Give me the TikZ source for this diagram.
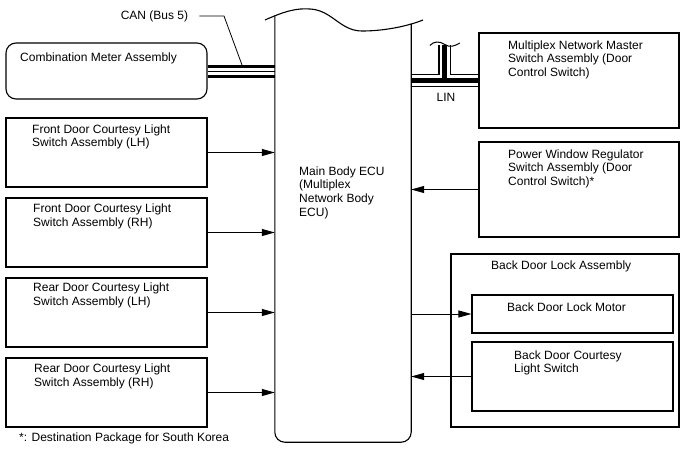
\documentclass[tikz,border=0pt]{standalone}
\usepackage{fontspec}
\setmainfont{Liberation Sans}
\usetikzlibrary{arrows.meta,calc}
\pgfdeclarelayer{bg}
\pgfsetlayers{bg,main}
\begin{document}
\begin{tikzpicture}[x=1pt,y=-1pt,
  box/.style={draw, line width=1.1pt, inner sep=0pt},
  lbl/.style={anchor=north west, inner sep=0pt, align=left, font=\fontsize{12}{13.7}\selectfont},
  ctr/.style={inner sep=0pt, font=\fontsize{12}{13.7}\selectfont},
  arr/.style={line width=1pt, -{Triangle[length=13pt,width=7pt]}}]
\useasboundingbox (0,0) rectangle (688,463);
% ECU body (outline drawn below)
\node[inner sep=0pt, minimum width=136pt, minimum height=426.5pt] (ecu) at (343,228.75) {};
% boxes
\node[box, rounded corners=10pt, minimum width=201pt, minimum height=56pt] (cm) at (106.5,71) {};
\node[box, minimum width=201pt, minimum height=69pt] (fl) at (106.5,152.5) {};
\node[box, minimum width=201pt, minimum height=69pt] (fr) at (106.5,232.5) {};
\node[box, minimum width=201pt, minimum height=69pt] (rl) at (106.5,312.5) {};
\node[box, minimum width=201pt, minimum height=69pt] (rr) at (106.5,392.5) {};
\node[box, minimum width=200pt, minimum height=95pt] (mm) at (579,80.5) {};
\node[box, minimum width=200pt, minimum height=95pt] (pw) at (579,189.5) {};
\node[box, minimum width=228pt, minimum height=173pt] (bd) at (565,340.5) {};
\node[box, minimum width=201pt, minimum height=38pt] (mo) at (572.5,314) {};
\node[box, minimum width=201pt, minimum height=69pt] (cs) at (572.5,376.5) {};
% ECU outline
\draw[line width=1.1pt] (265,20) .. controls (285,11) and (297,8) .. (310,9)
  .. controls (332,10) and (340,31) .. (362,31)
  .. controls (385,31) and (408,26) .. (423,20);
\draw[line width=1.1pt, rounded corners=10pt] (ecu.north west) -- (ecu.south west) -- (ecu.south east) -- ($(ecu.north east)+(0,8.5)$);
% texts
\node[lbl] (tcm) at (20,52.2) {Combination Meter Assembly};
\node[lbl] (tfl) at (32,124.2) {Front Door Courtesy Light\\Switch Assembly (LH)};
\node[lbl] (tfr) at (33,203.5) {Front Door Courtesy Light\\Switch Assembly (RH)};
\node[lbl] (trl) at (33,282.5) {Rear Door Courtesy Light\\Switch Assembly (LH)};
\node[lbl] (trr) at (34,363.5) {Rear Door Courtesy Light\\Switch Assembly (RH)};
\node[lbl] (tmm) at (508,40.2) {Multiplex Network Master\\Switch Assembly (Door\\Control Switch)};
\node[lbl] (tpw) at (508,149.2) {Power Window Regulator\\Switch Assembly (Door\\Control Switch)*};
\node[lbl] (tecu) at (299,166.2) {Main Body ECU\\(Multiplex\\Network Body\\ECU)};
\node[lbl] (tbd) at (491,260.2) {Back Door Lock Assembly};
\node[lbl] (tmo) at (507,302.2) {Back Door Lock Motor};
\node[lbl] (tcs) at (514,350.2) {Back Door Courtesy\\Light Switch};
\node[lbl] (tfn) at (19,432.2) {*: Destination Package for South Korea};
\node[ctr] (lin) at (446,97.5) {LIN};
\node[ctr] (can) at (154.5,16) {CAN (Bus 5)};
% CAN bus
\coordinate (canE) at (cm.east -| ecu.west);
\begin{pgfonlayer}{bg}
\foreach \w/\c in {13/black,7/white,1/black}
  \draw[line width=\w pt, \c] (cm.east) -- (canE);
\end{pgfonlayer}
\coordinate (canbend) at (224,16);
\coordinate (cantouch) at (242,65);
\draw[line width=0.8pt] ($(can.east)+(11,0)$) -- (canbend) -- (cantouch);
% LIN bus
\coordinate (linW) at (ecu.east |- mm.west);
\coordinate (linJ) at ($(linW)!0.5!(mm.west)$);
\coordinate (linT) at ($(linJ)+(0,-35.5)$);
\begin{pgfonlayer}{bg}
\foreach \w/\c in {13/black,10.4/white,5/black}
  \draw[line width=\w pt, \c] (linW) -- (mm.west) (linJ) -- (linT);
\end{pgfonlayer}
\draw[line width=1pt] ($(linT)+(-15,0.5)$) .. controls +(4,-4.5) and +(-5,-3.5) .. ($(linT)+(0,-0.5)$)
  .. controls +(5,3.5) and +(-5,3) .. ($(linT)+(15,-2)$);
% arrows
\draw[arr] (fl.east) -- (fl.east -| ecu.west);
\draw[arr] (fr.east) -- (fr.east -| ecu.west);
\draw[arr] (rl.east) -- (rl.east -| ecu.west);
\draw[arr] (rr.east) -- (rr.east -| ecu.west);
\draw[arr] (pw.west) -- (pw.west -| ecu.east);
\draw[arr] (mo.west -| ecu.east) -- (mo.west);
\draw[arr] (cs.west) -- (cs.west -| ecu.east);
\end{tikzpicture}
\end{document}
